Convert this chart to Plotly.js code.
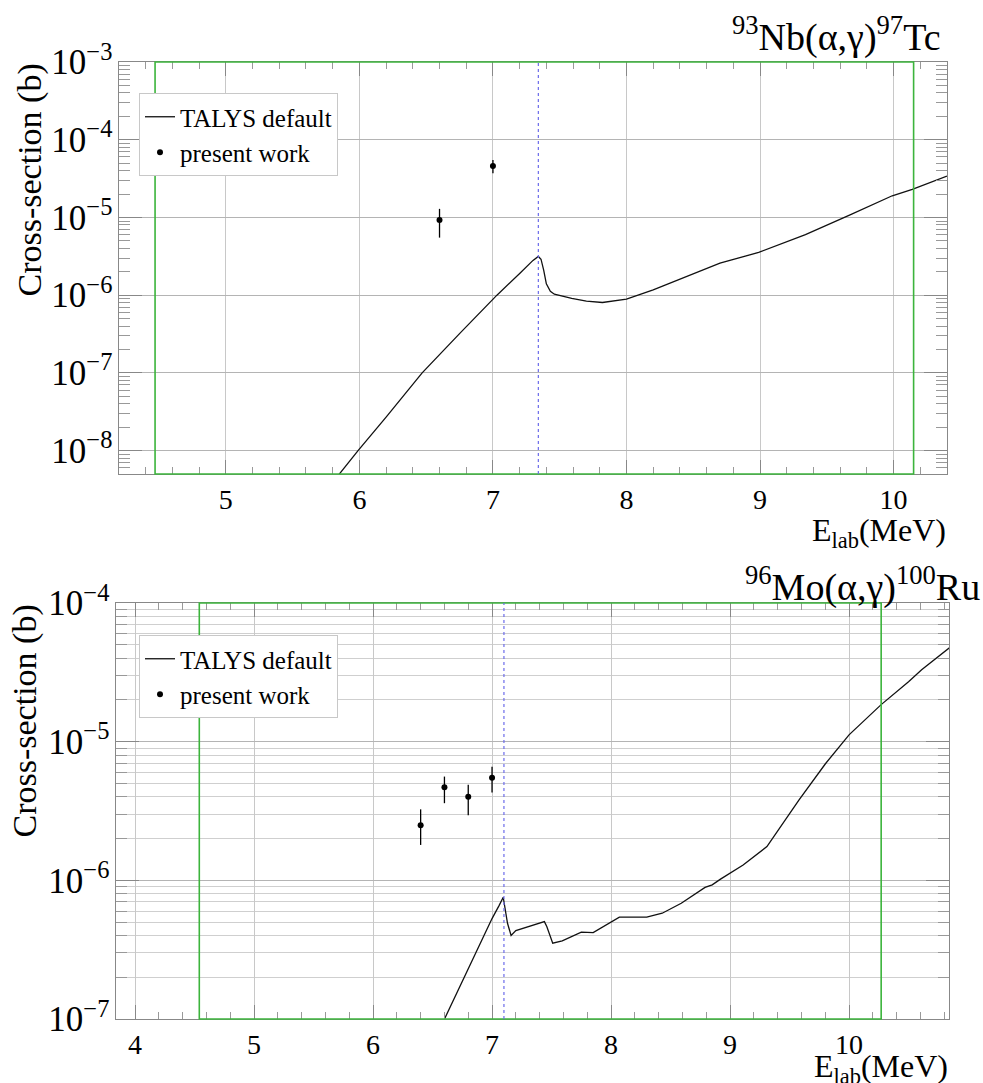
<!DOCTYPE html>
<html>
<head>
<meta charset="utf-8">
<script src="https://cdn.plot.ly/plotly-3.0.1.min.js"></script>
<style>html,body{margin:0;padding:0;background:#fff;}#chart{width:983px;height:1083px;}</style>
</head>
<body>
<div id="chart"></div>
<script>
// ---------- data: 93Nb(a,g)97Tc ----------
const nbTalysE  = [5.80, 5.99, 6.20, 6.47, 6.75, 7.03, 7.20, 7.30, 7.34, 7.36, 7.38, 7.40, 7.43, 7.46, 7.59, 7.70, 7.82, 8.00, 8.20, 8.45, 8.70, 8.99, 9.11, 9.34, 9.67, 9.99, 10.14, 10.40];
const nbTalysXS = [3.9e-9, 1.0e-8, 2.7e-8, 1.0e-7, 3.2e-7, 1.0e-6, 1.9e-6, 2.8e-6, 3.15e-6, 2.9e-6, 2.1e-6, 1.4e-6, 1.12e-6, 1.03e-6, 9.1e-7, 8.4e-7, 8.05e-7, 8.9e-7, 1.17e-6, 1.74e-6, 2.58e-6, 3.55e-6, 4.25e-6, 6.0e-6, 1.07e-5, 1.9e-5, 2.3e-5, 3.4e-5];
const nbExpE        = [6.6, 7.0];
const nbExpXS       = [9.3e-6, 4.6e-5];
const nbExpErrPlus  = [3.6e-6, 9.0e-6];
const nbExpErrMinus = [3.8e-6, 9.0e-6];
const nbWindow      = [4.47, 10.15];   // energy window (green)
const nbThreshold   = [7.34];          // blue dotted marker

// ---------- data: 96Mo(a,g)100Ru ----------
const moTalysE  = [6.55, 6.60, 6.81, 7.00, 7.06, 7.094, 7.13, 7.16, 7.20, 7.30, 7.44, 7.46, 7.51, 7.59, 7.75, 7.85, 7.94, 8.07, 8.30, 8.43, 8.59, 8.79, 8.85, 8.92, 9.11, 9.31, 9.58, 9.80, 10.00, 10.27, 10.50, 10.61, 10.85];
const moTalysXS = [8.1e-8, 1.0e-7, 2.4e-7, 5.3e-7, 6.6e-7, 7.55e-7, 4.9e-7, 4.0e-7, 4.34e-7, 4.64e-7, 5.04e-7, 4.64e-7, 3.52e-7, 3.66e-7, 4.23e-7, 4.2e-7, 4.64e-7, 5.42e-7, 5.42e-7, 5.79e-7, 6.84e-7, 8.9e-7, 9.27e-7, 1.02e-6, 1.29e-6, 1.75e-6, 3.8e-6, 6.9e-6, 1.12e-5, 1.85e-5, 2.7e-5, 3.3e-5, 4.8e-5];
const moExpE        = [6.4, 6.6, 6.8, 7.0];
const moExpXS       = [2.5e-6, 4.7e-6, 4.0e-6, 5.5e-6];
const moExpErrPlus  = [0.75e-6, 0.9e-6, 0.9e-6, 1.1e-6];
const moExpErrMinus = [0.7e-6, 1.1e-6, 1.05e-6, 1.2e-6];
const moWindow      = [4.54, 10.27];
const moThreshold   = [7.10];

const legendNames = ['TALYS default', 'present work'];
const panelTitles = ['<sup>93</sup>Nb(α,γ)<sup>97</sup>Tc', '<sup>96</sup>Mo(α,γ)<sup>100</sup>Ru'];
const yTitle = 'Cross-section (b)';
const xTitle = 'E<sub>lab</sub>(MeV)';

// ---------- style ----------
const FONT = 'Liberation Serif';
const W = 983, H = 1083;
const px = v => v / W;
const py = v => 1 - v / H;

function talys(x, y, xa, ya, leg) {
  return {x: x, y: y, xaxis: xa, yaxis: ya, type: 'scatter', mode: 'lines',
    name: legendNames[0], legend: leg, line: {color: '#111', width: 1.3}, hoverinfo: 'x+y'};
}
function exp(x, y, ep, em, xa, ya, leg) {
  return {x: x, y: y, xaxis: xa, yaxis: ya, type: 'scatter', mode: 'markers',
    name: legendNames[1], legend: leg, marker: {color: '#000', size: 6},
    error_y: {type: 'data', symmetric: false, array: ep, arrayminus: em, color: '#000', thickness: 1.3, width: 0}};
}

const data = [
  talys(nbTalysE, nbTalysXS, 'x', 'y', 'legend'),
  exp(nbExpE, nbExpXS, nbExpErrPlus, nbExpErrMinus, 'x', 'y', 'legend'),
  talys(moTalysE, moTalysXS, 'x2', 'y2', 'legend2'),
  exp(moExpE, moExpXS, moExpErrPlus, moExpErrMinus, 'x2', 'y2', 'legend2')
];

function xAxis(dom, range, anchor) {
  return {domain: dom, range: range, anchor: anchor, tick0: 0, dtick: 1,
    ticks: 'inside', ticklen: 14, tickcolor: '#888', tickwidth: 1,
    minor: {dtick: 0.2, ticks: 'inside', ticklen: 7, tickcolor: '#999', showgrid: false},
    showgrid: true, gridcolor: '#c8c8c8', gridwidth: 1,
    showline: true, linecolor: '#888', linewidth: 1, mirror: 'ticks', zeroline: false,
    tickfont: {family: FONT, size: 28, color: '#000'}};
}
function yAxis(dom, range, anchor, minorGrid) {
  return {type: 'log', domain: dom, range: range, anchor: anchor, dtick: 1,
    exponentformat: 'power', ticks: 'inside', ticklen: 23, tickcolor: '#888',
    minor: {dtick: 'D1', ticks: 'inside', ticklen: 11, tickcolor: '#999', showgrid: minorGrid, gridcolor: '#cfcfcf', gridwidth: 1},
    showgrid: true, gridcolor: '#b4b4b4', gridwidth: 1,
    showline: true, linecolor: '#888', linewidth: 1, mirror: 'ticks', zeroline: false,
    tickfont: {family: FONT, size: 28, color: '#000'}};
}

function windowRect(win, xr, yr) {
  return {type: 'rect', xref: xr, yref: yr + ' domain', x0: win[0], x1: win[1], y0: 0, y1: 1,
    line: {color: '#3cb43c', width: 1.6}, fillcolor: 'rgba(0,0,0,0)', layer: 'above'};
}
function thresholdLine(t, xr, yr) {
  return {type: 'line', xref: xr, yref: yr + ' domain', x0: t[0], x1: t[0], y0: 0, y1: 1,
    line: {color: '#6b6bea', width: 1.2, dash: 'dot'}, layer: 'above'};
}

function legendBox(top) {
  return {x: px(139), y: py(top), xanchor: 'left', yanchor: 'top', bgcolor: '#fff',
    bordercolor: '#c8c8c8', borderwidth: 1, itemwidth: 30, tracegroupgap: 0,
    font: {family: FONT, size: 25, color: '#000'}};
}

const annots = [
  {text: panelTitles[0], x: px(943), y: py(8), xref: 'paper', yref: 'paper', xanchor: 'right', yanchor: 'top', showarrow: false, font: {family: FONT, size: 38, color: '#000'}},
  {text: panelTitles[1], x: px(982), y: py(558), xref: 'paper', yref: 'paper', xanchor: 'right', yanchor: 'top', showarrow: false, font: {family: FONT, size: 38, color: '#000'}},
  {text: yTitle, x: px(29), y: py(62), xref: 'paper', yref: 'paper', xanchor: 'center', yanchor: 'top', textangle: -90, showarrow: false, font: {family: FONT, size: 34, color: '#000'}},
  {text: yTitle, x: px(24), y: py(603), xref: 'paper', yref: 'paper', xanchor: 'center', yanchor: 'top', textangle: -90, showarrow: false, font: {family: FONT, size: 34, color: '#000'}},
  {text: xTitle, x: px(948), y: py(510), xref: 'paper', yref: 'paper', xanchor: 'right', yanchor: 'top', showarrow: false, font: {family: FONT, size: 32, color: '#000'}},
  {text: xTitle, x: px(950), y: py(1046), xref: 'paper', yref: 'paper', xanchor: 'right', yanchor: 'top', showarrow: false, font: {family: FONT, size: 32, color: '#000'}}
];

const layout = {
  width: W, height: H, autosize: false,
  margin: {l: 0, r: 0, t: 0, b: 0, pad: 0},
  paper_bgcolor: '#fff', plot_bgcolor: '#fff',
  font: {family: FONT, color: '#000'},
  showlegend: true,
  xaxis:  xAxis([px(119), px(947)], [4.20, 10.40], 'y'),
  yaxis:  yAxis([py(474), py(62)], [Math.log10(5e-9), -3], 'x', false),
  xaxis2: xAxis([px(116), px(949)], [3.84, 10.84], 'y2'),
  yaxis2: yAxis([py(1019), py(603)], [-7, -4], 'x2', true),
  legend: legendBox(93),
  legend2: legendBox(635),
  shapes: [
    windowRect(nbWindow, 'x', 'y'), thresholdLine(nbThreshold, 'x', 'y'),
    windowRect(moWindow, 'x2', 'y2'), thresholdLine(moThreshold, 'x2', 'y2')
  ],
  annotations: annots
};

Plotly.newPlot('chart', data, layout, {staticPlot: true, displayModeBar: false});
</script>
</body>
</html>
